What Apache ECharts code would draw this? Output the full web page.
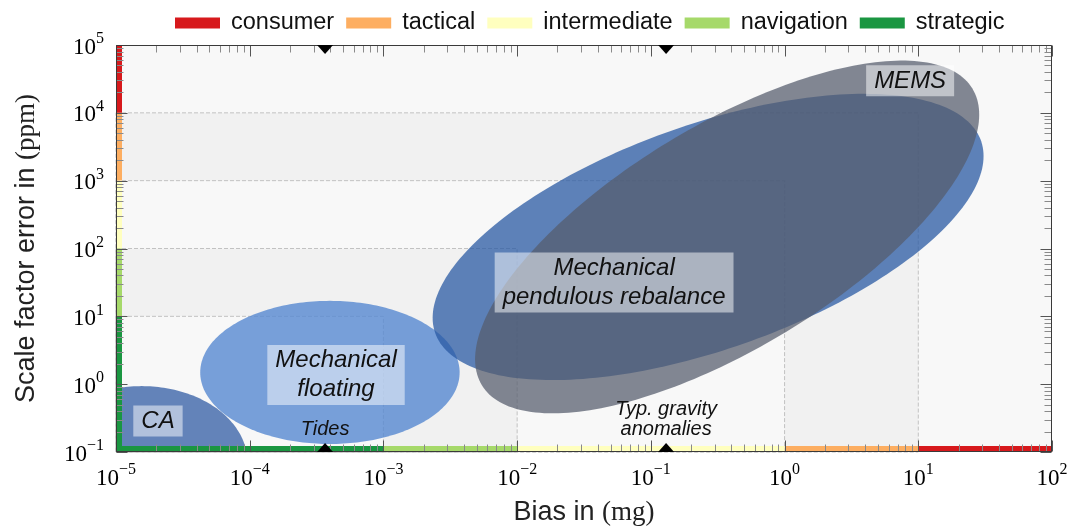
<!DOCTYPE html>
<html>
<head>
<meta charset="utf-8">
<script src="https://cdn.jsdelivr.net/npm/echarts@6/dist/echarts.min.js"></script>
<style>
  html, body { margin: 0; padding: 0; background: #fff; }
  #chart { width: 1079px; height: 531px; }
</style>
</head>
<body>
<div id="chart"></div>
<script>
// Sensor grades: upper bias limit (mg) and upper scale-factor-error limit (ppm)
const gradeNames = ['consumer', 'tactical', 'intermediate', 'navigation', 'strategic'];
const gradeColors = ['#d7191c', '#fdae61', '#ffffbf', '#a6d96a', '#1a9641'];
const gradeBiasMax = [1e2, 1e1, 1e0, 1e-2, 1e-3];
const gradeScaleMax = [1e5, 1e4, 1e3, 1e2, 1e1];
const biasAxisMin = 1e-5, biasAxisMax = 1e2;
const scaleAxisMin = 1e-1, scaleAxisMax = 1e5;

// Accelerometer technologies: centre of each region and its half extent in decades.
// Phase 90 gives an upright ellipse, smaller phases tilt it upward to the right.
const techNames = ['CA', 'Mechanical\nfloating', 'Mechanical\npendulous rebalance', 'MEMS'];
const techBias = [1.56e-5, 3.98e-4, 0.268, 0.372];
const techScale = [0.071, 1.49, 148, 148];
const techBiasDecades = [0.79, 0.97, 2.06, 1.885];
const techScaleDecades = [1.12, 1.055, 2.11, 2.6];
const techPhase = [90, 90, 55.6, 46.1];
const techLabelBias = [2.06e-5, 4.42e-4, 0.0531, 8.69];
const techLabelScale = [0.286, 1.37, 31.6, 29600];

// Reference signal levels marked on the bias axis
const refNames = ['Tides', 'Typ. gravity\nanomalies'];
const refBias = [3.66e-4, 0.13];

const techFills = ['rgba(61,101,169,0.8)', 'rgba(86,136,209,0.8)', 'rgba(41,89,163,0.75)', 'rgba(85,92,108,0.73)'];
const SANS = 'Liberation Sans';
const SERIF = 'Liberation Serif';
const BAND = 6;

const chart = echarts.init(document.getElementById('chart'));

function lowerBias(i) { return i + 1 < gradeBiasMax.length ? gradeBiasMax[i + 1] : biasAxisMin; }
function lowerScale(i) { return i + 1 < gradeScaleMax.length ? gradeScaleMax[i + 1] : scaleAxisMin; }

function renderGrade(params, api) {
  const i = params.dataIndex;
  const p0 = api.coord([biasAxisMin, scaleAxisMin]);
  const p1 = api.coord([gradeBiasMax[i], gradeScaleMax[i]]);
  return {
    type: 'rect',
    shape: { x: p0[0], y: p1[1], width: p1[0] - p0[0], height: p0[1] - p1[1] },
    style: {
      fill: i % 2 ? '#f1f1f1' : '#f8f8f8',
      stroke: i === 0 ? null : '#c2c2c2',
      lineWidth: 1,
      lineDash: [4, 2]
    }
  };
}

function renderTech(params, api) {
  const i = params.dataIndex;
  const cx = Math.log10(techBias[i]);
  const cy = Math.log10(techScale[i]);
  const ph = techPhase[i] * Math.PI / 180;
  const pts = [];
  for (let k = 0; k < 240; k++) {
    const t = k / 240 * 2 * Math.PI;
    pts.push(api.coord([
      Math.pow(10, cx + techBiasDecades[i] * Math.cos(t)),
      Math.pow(10, cy + techScaleDecades[i] * Math.cos(t - ph))
    ]));
  }
  return { type: 'polygon', shape: { points: pts }, style: { fill: techFills[i] } };
}

function renderTechLabel(params, api) {
  const i = params.dataIndex;
  const p = api.coord([techLabelBias[i], techLabelScale[i]]);
  return {
    type: 'text',
    x: p[0], y: p[1],
    style: {
      text: techNames[i],
      fontFamily: SANS, fontStyle: 'italic', fontSize: 24,
      lineHeight: 29,
      fill: '#111',
      align: 'center', verticalAlign: 'middle',
      backgroundColor: 'rgba(255,255,255,0.5)',
      padding: [1, 8, 1, 8]
    }
  };
}

function bandRenderer(i) {
  return function (params, api) {
    const cs = params.coordSys;
    const bx0 = api.coord([lowerBias(i), scaleAxisMin])[0];
    const bx1 = api.coord([gradeBiasMax[i], scaleAxisMin])[0];
    const sy0 = api.coord([biasAxisMin, lowerScale(i)])[1];
    const sy1 = api.coord([biasAxisMin, gradeScaleMax[i]])[1];
    return {
      type: 'group',
      children: [
        { type: 'rect', shape: { x: bx0, y: cs.y + cs.height - BAND, width: bx1 - bx0, height: BAND }, style: { fill: gradeColors[i] } },
        { type: 'rect', shape: { x: cs.x, y: sy1, width: BAND, height: sy0 - sy1 }, style: { fill: gradeColors[i] } }
      ]
    };
  };
}

function renderFrame(params, api) {
  const cs = params.coordSys;
  const L = Math.round(cs.x) + 0.5, R = Math.round(cs.x + cs.width) - 0.5;
  const T = Math.round(cs.y) + 0.5, B = Math.round(cs.y + cs.height) - 0.5;
  const children = [];
  const minorLen = 7, majorLen = 11;
  const tick = (x1, y1, x2, y2, major) => children.push({
    type: 'line', shape: { x1, y1, x2, y2 },
    style: { stroke: major ? '#555' : '#8a8a8a', lineWidth: 1 }
  });
  const e0 = Math.round(Math.log10(biasAxisMin)), e1 = Math.round(Math.log10(biasAxisMax));
  for (let e = e0; e <= e1; e++) {
    for (let k = 1; k <= 9; k++) {
      if (e === e1 && k > 1) break;
      const v = k * Math.pow(10, e);
      const x = Math.round(api.coord([v, scaleAxisMin])[0]) + 0.5;
      const len = k === 1 ? majorLen : minorLen;
      tick(x, T, x, T + len, k === 1);
      tick(x, B, x, B - len, k === 1);
    }
  }
  const f0 = Math.round(Math.log10(scaleAxisMin)), f1 = Math.round(Math.log10(scaleAxisMax));
  for (let e = f0; e <= f1; e++) {
    for (let k = 1; k <= 9; k++) {
      if (e === f1 && k > 1) break;
      const v = k * Math.pow(10, e);
      const y = Math.round(api.coord([biasAxisMin, v])[1]) + 0.5;
      const len = k === 1 ? majorLen : minorLen;
      tick(L, y, L + len, y, k === 1);
      tick(R, y, R - len, y, k === 1);
    }
  }
  children.push({
    type: 'rect', shape: { x: L, y: T, width: R - L, height: B - T },
    style: { fill: null, stroke: '#3a3a3a', lineWidth: 1 }
  });
  return { type: 'group', children };
}

function renderRef(params, api) {
  const i = params.dataIndex;
  const cs = params.coordSys;
  const x = api.coord([refBias[i], scaleAxisMin])[0];
  const T = cs.y, B = cs.y + cs.height;
  const w = 8, h = 9;
  const lines = refNames[i].split('\n').length;
  return {
    type: 'group',
    children: [
      { type: 'polygon', shape: { points: [[x - w, T], [x + w, T], [x, T + h]] }, style: { fill: '#000' } },
      { type: 'polygon', shape: { points: [[x - w, B], [x + w, B], [x, B - h]] }, style: { fill: '#000' } },
      {
        type: 'text', x: x, y: B - 13 - lines * 10,
        style: {
          text: refNames[i], fontFamily: SANS, fontStyle: 'italic', fontSize: 20,
          lineHeight: 20, fill: '#111', align: 'center', verticalAlign: 'middle'
        }
      }
    ]
  };
}

function powerLabel(value) {
  const e = Math.round(Math.log10(value));
  return '{b|10}{s|' + (e < 0 ? '\u2212' + (-e) : e) + '}';
}
const powerRich = {
  b: { fontFamily: SERIF, fontSize: 23, color: '#000', padding: [5, 0, 0, 0] },
  s: { fontFamily: SERIF, fontSize: 16, color: '#000', verticalAlign: 'top' }
};

const series = [
  {
    type: 'custom', name: 'grades', coordinateSystem: 'cartesian2d', silent: true, z: 1,
    data: gradeNames.map((n, i) => [gradeBiasMax[i], gradeScaleMax[i]]),
    renderItem: renderGrade
  },
  {
    type: 'custom', name: 'technologies', coordinateSystem: 'cartesian2d', silent: true, clip: true, z: 2,
    data: techNames.map((n, i) => [techBias[i], techScale[i]]),
    renderItem: renderTech
  },
  {
    type: 'custom', name: 'technology labels', coordinateSystem: 'cartesian2d', silent: true, z: 3,
    data: techNames.map((n, i) => [techLabelBias[i], techLabelScale[i]]),
    renderItem: renderTechLabel
  }
];
gradeNames.forEach((name, i) => {
  series.push({
    type: 'custom', name: name, coordinateSystem: 'cartesian2d', silent: true, z: 4,
    itemStyle: { color: gradeColors[i] },
    data: [[gradeBiasMax[i], gradeScaleMax[i]]],
    renderItem: bandRenderer(i)
  });
});
series.push({
  type: 'custom', name: 'frame', coordinateSystem: 'cartesian2d', silent: true, z: 5,
  data: [[biasAxisMin, scaleAxisMin]],
  renderItem: renderFrame
});
series.push({
  type: 'custom', name: 'references', coordinateSystem: 'cartesian2d', silent: true, z: 6,
  data: refNames.map((n, i) => [refBias[i], scaleAxisMin]),
  renderItem: renderRef
});

chart.setOption({
  animation: false,
  backgroundColor: '#fff',
  grid: { left: 116, right: 27, top: 45, bottom: 76 },
  legend: {
    data: gradeNames,
    left: 170, top: 6,
    icon: 'rect',
    itemWidth: 45, itemHeight: 11, itemGap: 12,
    selectedMode: false,
    textStyle: { fontFamily: SANS, fontSize: 23.5, color: '#111', padding: [0, 0, 0, 6] }
  },
  xAxis: {
    type: 'log', logBase: 10, min: biasAxisMin, max: biasAxisMax,
    axisLine: { show: false }, axisTick: { show: false }, splitLine: { show: false },
    axisLabel: { formatter: powerLabel, rich: powerRich, margin: 10 },
    name: '{s|Bias in }{r|(mg)}', nameLocation: 'middle', nameGap: 47,
    nameTextStyle: {
      rich: {
        s: { fontFamily: SANS, fontSize: 27, color: '#222' },
        r: { fontFamily: SERIF, fontSize: 27, color: '#222' }
      }
    }
  },
  yAxis: {
    type: 'log', logBase: 10, min: scaleAxisMin, max: scaleAxisMax,
    axisLine: { show: false }, axisTick: { show: false }, splitLine: { show: false },
    axisLabel: { formatter: powerLabel, rich: powerRich, margin: 12 },
    name: '{s|Scale factor error in }{r|(ppm)}', nameLocation: 'middle', nameGap: 76,
    nameTextStyle: {
      rich: {
        s: { fontFamily: SANS, fontSize: 27, color: '#222' },
        r: { fontFamily: SERIF, fontSize: 27, color: '#222' }
      }
    }
  },
  series: series
});
</script>
</body>
</html>
